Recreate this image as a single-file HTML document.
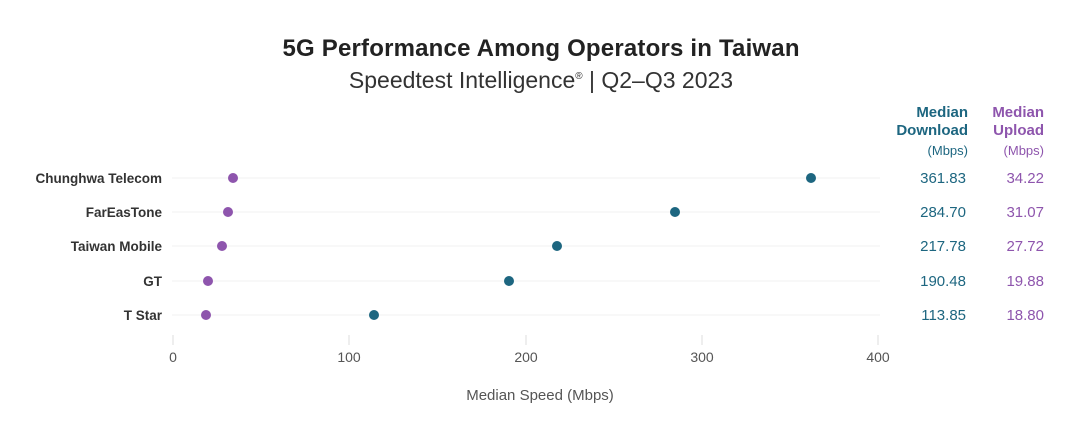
<!DOCTYPE html><html><head><style>body{margin:0;background:#fff}</style></head><body>
<svg width="1080" height="421" xmlns="http://www.w3.org/2000/svg" font-family="Liberation Sans, sans-serif">
<text x="541" y="56" text-anchor="middle" font-size="24" font-weight="bold" fill="#222" textLength="517">5G Performance Among Operators in Taiwan</text>
<text x="541" y="88" text-anchor="middle" font-size="23" fill="#333">Speedtest Intelligence<tspan font-size="10" dy="-9">®</tspan><tspan dy="9"> | Q2–Q3 2023</tspan></text>
<g font-size="15" font-weight="bold" text-anchor="end" fill="#1d6680">
<text x="968" y="117">Median</text><text x="968" y="135">Download</text></g>
<text x="968" y="155" font-size="13" text-anchor="end" fill="#1d6680">(Mbps)</text>
<g font-size="15" font-weight="bold" text-anchor="end" fill="#8e55ad">
<text x="1044" y="117">Median</text><text x="1044" y="135">Upload</text></g>
<text x="1044" y="155" font-size="13" text-anchor="end" fill="#8e55ad">(Mbps)</text>
<g stroke="#f0f0f0" stroke-width="1">
<line x1="172" x2="880" y1="178" y2="178"/><line x1="172" x2="880" y1="212" y2="212"/><line x1="172" x2="880" y1="246" y2="246"/><line x1="172" x2="880" y1="281" y2="281"/><line x1="172" x2="880" y1="315" y2="315"/></g>
<g stroke="#ddd"><line x1="173" x2="173" y1="335" y2="345"/><line x1="349" x2="349" y1="335" y2="345"/><line x1="526" x2="526" y1="335" y2="345"/><line x1="702" x2="702" y1="335" y2="345"/><line x1="878" x2="878" y1="335" y2="345"/></g>
<g font-size="14" fill="#555" text-anchor="middle"><text x="173" y="362">0</text><text x="349" y="362">100</text><text x="526" y="362">200</text><text x="702" y="362">300</text><text x="878" y="362">400</text>
<text x="540" y="400" font-size="15">Median Speed (Mbps)</text></g>
<g font-size="13.5" font-weight="bold" fill="#333" text-anchor="end">
<text x="162" y="183">Chunghwa Telecom</text><text x="162" y="217">FarEasTone</text><text x="162" y="251">Taiwan Mobile</text><text x="162" y="286">GT</text><text x="162" y="320">T Star</text></g>
<g fill="#1d6680"><circle cx="811" cy="178" r="5"/><circle cx="675" cy="212" r="5"/><circle cx="557" cy="246" r="5"/><circle cx="509" cy="281" r="5"/><circle cx="374" cy="315" r="5"/></g>
<g fill="#8e55ad"><circle cx="233" cy="178" r="5"/><circle cx="228" cy="212" r="5"/><circle cx="222" cy="246" r="5"/><circle cx="208" cy="281" r="5"/><circle cx="206" cy="315" r="5"/></g>
<g font-size="15" text-anchor="end" fill="#1d6680"><text x="966" y="183">361.83</text><text x="966" y="217">284.70</text><text x="966" y="251">217.78</text><text x="966" y="286">190.48</text><text x="966" y="320">113.85</text></g>
<g font-size="15" text-anchor="end" fill="#8e55ad"><text x="1044" y="183">34.22</text><text x="1044" y="217">31.07</text><text x="1044" y="251">27.72</text><text x="1044" y="286">19.88</text><text x="1044" y="320">18.80</text></g>
</svg></body></html>
